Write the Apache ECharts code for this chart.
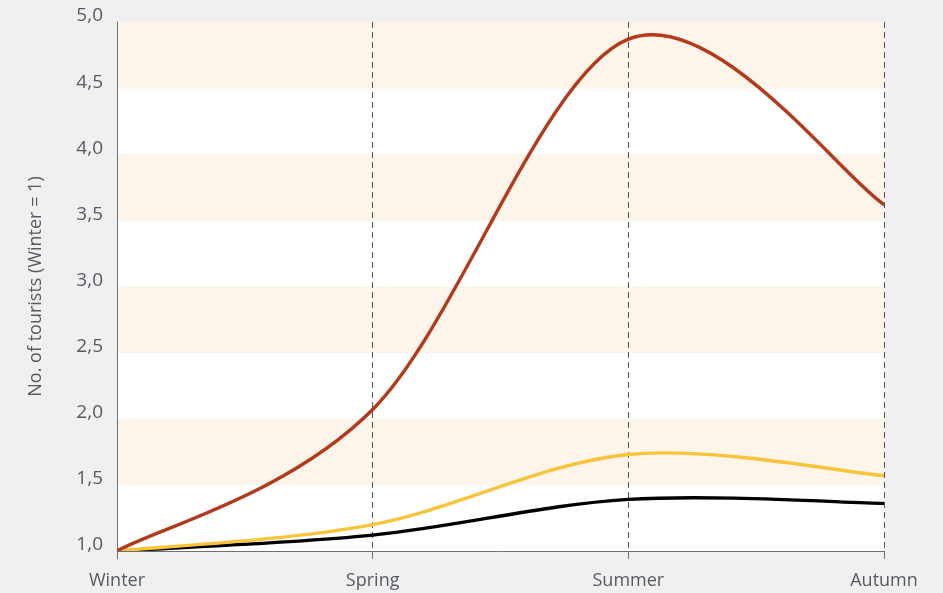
<!DOCTYPE html>
<html>
<head>
<meta charset="utf-8">
<script src="https://cdn.jsdelivr.net/npm/echarts@6/dist/echarts.min.js"></script>
<style>
  html, body { margin: 0; padding: 0; background: #f0f0f0; }
  #chart { width: 943px; height: 593px; }
</style>
</head>
<body>
<div id="chart"></div>
<script>
// Seasonal tourist numbers, indexed to Winter = 1
const seasons = ['Winter', 'Spring', 'Summer', 'Autumn'];
const seriesRed = [1.0, 2.07, 4.87, 3.62];
const seriesYellow = [1.0, 1.2, 1.73, 1.57];
const seriesBlack = [1.0, 1.12, 1.39, 1.36];
const yTicks = { min: 1, max: 5, step: 0.5 };

const labelColor = '#555a63';
const fontFamily = '"Open Sans", "Noto Sans", sans-serif';

const chart = echarts.init(document.getElementById('chart'));

// Smooth line through the data points as a Catmull-Rom spline,
// drawn as cubic Bezier segments in pixel space from the axis scales.
function splineSeries(values, color) {
  return {
    type: 'custom',
    data: values.map((v, i) => [i, v]),
    encode: { x: 0, y: 1 },
    clip: true,
    z: 3,
    renderItem: function (params, api) {
      if (params.dataIndex !== 0) return null;
      const pts = values.map((v, i) => api.coord([i, v]));
      const n = pts.length;
      const children = [];
      for (let i = 0; i < n - 1; i++) {
        const p0 = pts[Math.max(i - 1, 0)];
        const p1 = pts[i];
        const p2 = pts[i + 1];
        const p3 = pts[Math.min(i + 2, n - 1)];
        children.push({
          type: 'bezierCurve',
          shape: {
            x1: p1[0], y1: p1[1],
            cpx1: p1[0] + (p2[0] - p0[0]) / 6,
            cpy1: p1[1] + (p2[1] - p0[1]) / 6,
            cpx2: p2[0] - (p3[0] - p1[0]) / 6,
            cpy2: p2[1] - (p3[1] - p1[1]) / 6,
            x2: p2[0], y2: p2[1]
          },
          style: { stroke: color, lineWidth: 3.4, fill: null, lineCap: 'round', lineJoin: 'round' }
        });
      }
      return { type: 'group', children: children };
    }
  };
}

chart.setOption({
  backgroundColor: '#f0f0f0',
  animation: false,
  grid: { left: 117, right: 59, top: 22, bottom: 42 },
  xAxis: {
    type: 'category',
    data: seasons,
    boundaryGap: false,
    axisLine: { lineStyle: { color: '#6f6f6f', width: 1 } },
    axisTick: { show: true, length: 8, lineStyle: { color: '#6f6f6f' } },
    axisLabel: { color: labelColor, fontSize: 18, fontFamily: fontFamily, margin: 21 },
    splitLine: { show: true, lineStyle: { color: '#555555', type: [6, 4], width: 1 } }
  },
  yAxis: {
    type: 'value',
    min: yTicks.min,
    max: yTicks.max,
    interval: yTicks.step,
    name: 'No. of tourists (Winter = 1)',
    nameLocation: 'middle',
    nameGap: 72,
    nameTextStyle: { color: labelColor, fontSize: 18, fontFamily: fontFamily },
    axisLine: { show: true, lineStyle: { color: '#6f6f6f', width: 1 } },
    axisTick: { show: false },
    axisLabel: {
      color: labelColor, fontSize: 19, fontFamily: fontFamily, margin: 14,
      verticalAlign: 'bottom',
      lineHeight: 12,
      formatter: v => v.toFixed(1).replace('.', ',')
    },
    splitLine: { show: false },
    splitArea: { show: true, areaStyle: { color: ['#ffffff', '#fdf5e9'] } }
  },
  series: [
    splineSeries(seriesBlack, '#000000'),
    splineSeries(seriesYellow, '#f8c43a'),
    splineSeries(seriesRed, '#b33a1c')
  ]
});
</script>
</body>
</html>
